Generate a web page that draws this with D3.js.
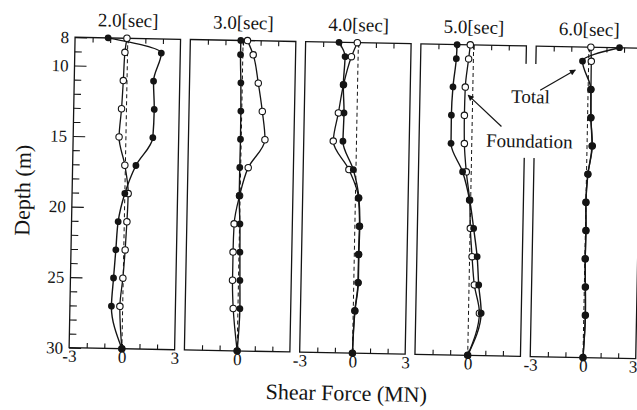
<!DOCTYPE html>
<html>
<head>
<meta charset="utf-8">
<script src="https://cdn.jsdelivr.net/npm/d3@7"></script>
<style>
  html, body { margin: 0; padding: 0; background: #fff; }
  svg { display: block; font-family: "Liberation Serif", "Times New Roman", serif; }
</style>
</head>
<body>
<svg id="chart" width="637" height="410"></svg>
<script>
// Depth levels (m) at which shear force was sampled
const depths = [8, 9, 11, 13, 15, 17, 19, 21, 23, 25, 27, 30];

// Snapshot times
const times = ["2.0[sec]", "3.0[sec]", "4.0[sec]", "5.0[sec]", "6.0[sec]"];

// Total shear force (MN), one array per snapshot
const total2 = [-1.12, 1.92, 1.51, 1.58, 1.53, 0.60, 0.00, -0.35, -0.45, -0.55, -0.64, 0];
const total3 = [-0.13, -0.13, -0.08, -0.05, -0.04, -0.05, -0.05, 0.02, 0.05, 0.08, 0.11, 0];
const total4 = [-1.10, -0.74, -0.81, -0.74, -0.77, -0.15, 0.20, 0.28, 0.26, 0.26, 0.10, 0];
const total5 = [-0.94, -0.97, -1.13, -1.19, -1.18, -0.49, -0.06, 0.20, 0.43, 0.55, 0.72, 0];
const total6 = [1.74, -0.35, 0.16, 0.19, 0.28, 0.08, 0.00, 0.03, 0.02, 0.06, 0.09, 0];

// Shear force carried by the foundation (MN)
const found2 = [-0.05, -0.15, -0.21, -0.28, -0.39, -0.03, 0.19, 0.15, 0.08, -0.02, -0.16, 0];
const found3 = [0.25, 0.59, 0.91, 1.17, 1.35, 0.43, -0.03, -0.31, -0.34, -0.34, -0.27, 0];
const found4 = [-0.06, -0.38, -0.80, -1.06, -1.32, -0.40, 0.18, 0.26, 0.24, 0.24, 0.09, 0];
const found5 = [-0.19, -0.27, -0.43, -0.45, -0.42, -0.28, -0.06, 0.01, 0.14, 0.30, 0.62, 0];
const found6 = [0.11, 0.15, 0.16, 0.19, 0.30, 0.08, 0.00, 0.03, 0.02, 0.06, 0.09, 0];

const totalSeries = [total2, total3, total4, total5, total6];
const foundationSeries = [found2, found3, found4, found5, found6];

// Axis ticks and labels
const forceDomain = [-3, 3];
const forceTicks = [-2, -1, 0, 1, 2];
const forceLabelSets = [[-3, 0, 3], [0], [-3, 0, 3], [0], [-3, 0, 3]];
const depthDomain = [8, 30];
const depthMajorTicks = [8, 10, 15, 20, 25, 30];
const depthMinorTicks = [9, 11, 12, 13, 14, 16, 17, 18, 19, 21, 22, 23, 24, 26, 27, 28, 29];

// ---- layout ----
const ink = "#141414";
const plotTop = 42, plotBottom = 352.5;
const left0 = 72, panelW = 105.5, panelStep = 115.3;

const svg = d3.select("#chart");
svg.append("rect").attr("width", 637).attr("height", 410).attr("fill", "#fff");

// the whole sheet sits slightly tilted
const root = svg.append("g").attr("transform", "rotate(1.1 320 200)");

const y = d3.scaleLinear().domain(depthDomain).range([plotTop, plotBottom]);

const line = (xs) => d3.line()
  .x(d => xs(d.v))
  .y(d => y(d.d))
  .curve(d3.curveMonotoneY);

const xScales = [];

times.forEach((t, i) => {
  const x0 = left0 + i * panelStep;
  const x = d3.scaleLinear().domain(forceDomain).range([x0, x0 + panelW]);
  xScales.push(x);
  const g = root.append("g");

  // inward ticks on top and bottom edges
  g.append("g")
    .attr("transform", `translate(0,${plotBottom})`)
    .call(d3.axisBottom(x).tickValues(forceTicks).tickSize(-5).tickFormat(""))
    .call(a => a.select(".domain").remove())
    .call(a => a.selectAll("line").attr("stroke", ink).attr("stroke-width", 1.1));
  g.append("g")
    .attr("transform", `translate(0,${plotTop})`)
    .call(d3.axisTop(x).tickValues(forceTicks).tickSize(-5).tickFormat(""))
    .call(a => a.select(".domain").remove())
    .call(a => a.selectAll("line").attr("stroke", ink).attr("stroke-width", 1.1));

  // force labels under the panel
  const isLast = i === times.length - 1;
  g.append("g")
    .attr("transform", `translate(0,${plotBottom})`)
    .call(d3.axisBottom(x).tickValues(forceLabelSets[i]).tickSize(0).tickPadding(2)
      .tickFormat(d3.format("d")))
    .call(a => a.select(".domain").remove())
    .call(a => a.selectAll("text")
      .attr("fill", ink).attr("font-size", 17)
      .attr("font-family", "Liberation Serif, serif")
      // the right-hand label of the last panel sits against the page edge
      .attr("dx", d => (isLast && d === forceDomain[1]) ? -3 : 0)
      .text(d => d < 0 ? "-" + Math.abs(d) : String(d)));

  // frame
  g.append("rect")
    .attr("x", x0).attr("y", plotTop)
    .attr("width", panelW).attr("height", plotBottom - plotTop)
    .attr("fill", "none").attr("stroke", ink).attr("stroke-width", 1.3);

  // zero reference
  g.append("line")
    .attr("x1", x(0)).attr("x2", x(0))
    .attr("y1", plotTop).attr("y2", plotBottom)
    .attr("stroke", ink).attr("stroke-width", 1)
    .attr("stroke-dasharray", "4,3");

  const tot = depths.map((d, k) => ({ d, v: totalSeries[i][k] }));
  const fnd = depths.map((d, k) => ({ d, v: foundationSeries[i][k] }));

  g.append("path").datum(fnd).attr("d", line(x))
    .attr("fill", "none").attr("stroke", ink).attr("stroke-width", 1.3);
  g.append("path").datum(tot).attr("d", line(x))
    .attr("fill", "none").attr("stroke", ink).attr("stroke-width", 1.4);

  g.selectAll("circle.fnd").data(fnd).join("circle")
    .attr("class", "fnd")
    .attr("cx", d => x(d.v)).attr("cy", d => y(d.d)).attr("r", 3.2)
    .attr("fill", "#fff").attr("stroke", ink).attr("stroke-width", 1.1);
  g.selectAll("circle.tot").data(tot).join("circle")
    .attr("class", "tot")
    .attr("cx", d => x(d.v)).attr("cy", d => y(d.d)).attr("r", 3.4)
    .attr("fill", ink);

  // snapshot title
  g.append("text")
    .attr("x", x0 + panelW / 2).attr("y", 30.5)
    .attr("text-anchor", "middle")
    .attr("font-size", 19).attr("fill", ink)
    .text(t);
});

// depth axis on the first panel
const yMinor = root.append("g")
  .attr("transform", `translate(${left0},0)`)
  .call(d3.axisLeft(y).tickValues(depthMinorTicks).tickSize(-7).tickFormat(""));
yMinor.select(".domain").remove();
yMinor.selectAll("line").attr("stroke", ink).attr("stroke-width", 1.1);

const yMajor = root.append("g")
  .attr("transform", `translate(${left0},0)`)
  .call(d3.axisLeft(y).tickValues(depthMajorTicks).tickSize(-12).tickPadding(6));
yMajor.select(".domain").remove();
yMajor.selectAll("line").attr("stroke", ink).attr("stroke-width", 1.1);
yMajor.selectAll("text")
  .attr("fill", ink).attr("font-size", 17)
  .attr("font-family", "Liberation Serif, serif");

// axis titles
root.append("text")
  .attr("transform", "translate(30,196) rotate(-90)")
  .attr("text-anchor", "middle")
  .attr("font-size", 22).attr("fill", ink)
  .text("Depth (m)");

root.append("text")
  .attr("x", 350).attr("y", 400)
  .attr("text-anchor", "middle")
  .attr("font-size", 22).attr("fill", ink)
  .text("Shear Force (MN)");

// ---- annotations ----
const defs = svg.append("defs");
defs.append("marker")
  .attr("id", "arrow")
  .attr("viewBox", "0 0 10 10")
  .attr("refX", 9).attr("refY", 5)
  .attr("markerWidth", 9).attr("markerHeight", 6)
  .attr("markerUnits", "userSpaceOnUse")
  .attr("orient", "auto")
  .append("path").attr("d", "M0,0 L10,5 L0,10 Z").attr("fill", ink);

const ann = root.append("g");
// label backgrounds break the neighbouring frames
ann.append("rect").attr("x", 481).attr("y", 78).attr("width", 96).attr("height", 76).attr("fill", "#fff");
ann.append("rect").attr("x", 503).attr("y", 60).attr("width", 55).attr("height", 20).attr("fill", "#fff");

ann.append("text").attr("x", 509).attr("y", 99)
  .attr("font-size", 19).attr("fill", ink).text("Total");
ann.append("text").attr("x", 485).attr("y", 143.5)
  .attr("font-size", 19).attr("fill", ink).text("Foundation");

// arrow to the Total curve of the last panel (depth 9)
const tgtTotal = [xScales[4](total6[1]), y(depths[1])];
ann.append("line")
  .attr("x1", 538).attr("y1", 86)
  .attr("x2", tgtTotal[0] - 7).attr("y2", tgtTotal[1] + 9)
  .attr("stroke", ink).attr("stroke-width", 1.2)
  .attr("marker-end", "url(#arrow)");

// arrow to the Foundation curve of the 5.0 s panel (depth 11)
const tgtFound = [xScales[3](found5[2]), y(depths[2])];
ann.append("line")
  .attr("x1", 500).attr("y1", 123)
  .attr("x2", tgtFound[0] + 3).attr("y2", tgtFound[1] + 8)
  .attr("stroke", ink).attr("stroke-width", 1.2)
  .attr("marker-end", "url(#arrow)");
</script>
</body>
</html>
